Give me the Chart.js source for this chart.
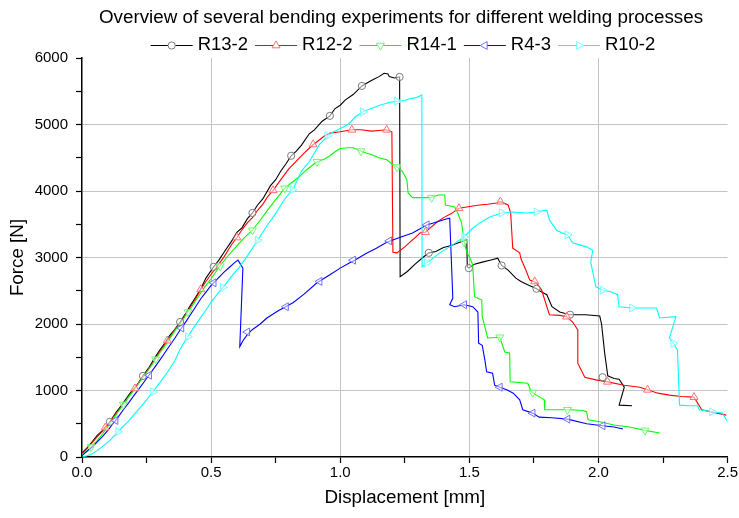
<!DOCTYPE html>
<html><head><meta charset="utf-8">
<script src="https://cdn.jsdelivr.net/npm/chart.js@4.4.1/dist/chart.umd.min.js"></script>
<style>html,body{margin:0;padding:0;background:#fff}#wrap{width:739px;height:518px}</style>
</head><body><div id="wrap"><canvas id="c" width="739" height="518"></canvas></div>
<script>
const titleText = 'Overview of several bending experiments for different welding processes';
const seriesNames = ['R13-2', 'R12-2', 'R14-1', 'R4-3', 'R10-2'];
const xTickLabels = ['0.0', '0.5', '1.0', '1.5', '2.0', '2.5'];
const yTickLabels = ['0', '1000', '2000', '3000', '4000', '5000', '6000'];

// R13-2 (Displacement mm, Force N)
const r13_2 = [[0,60],[0.02,140],[0.04,230],[0.06,330],[0.08,400],[0.108,530],[0.13,660],[0.15,760],[0.17,870],[0.19,980],[0.21,1060],[0.236,1220],[0.26,1350],[0.28,1480],[0.3,1600],[0.32,1710],[0.34,1830],[0.36,1920],[0.38,2030],[0.4,2150],[0.42,2280],[0.44,2400],[0.46,2530],[0.48,2690],[0.51,2860],[0.53,2960],[0.55,3080],[0.58,3250],[0.6,3380],[0.62,3450],[0.64,3580],[0.66,3670],[0.68,3790],[0.7,3880],[0.73,4080],[0.75,4170],[0.77,4300],[0.79,4410],[0.81,4530],[0.83,4600],[0.85,4690],[0.88,4860],[0.9,4920],[0.93,5050],[0.96,5130],[0.98,5240],[1.0,5290],[1.02,5370],[1.05,5450],[1.084,5580],[1.11,5640],[1.13,5680],[1.15,5720],[1.17,5770],[1.185,5760],[1.19,5720],[1.21,5700],[1.23,5715],[1.232,2710],[1.26,2790],[1.29,2900],[1.32,3000],[1.343,3070],[1.37,3090],[1.4,3150],[1.43,3180],[1.463,3230],[1.49,3265],[1.492,2860],[1.498,2840],[1.52,2900],[1.55,2930],[1.58,2960],[1.61,2990],[1.625,2880],[1.65,2810],[1.68,2690],[1.7,2640],[1.726,2590],[1.76,2530],[1.78,2480],[1.8,2440],[1.82,2260],[1.85,2180],[1.89,2140],[1.95,2140],[2.005,2120],[2.012,2000],[2.024,1565],[2.036,1220],[2.06,1180],[2.08,1170],[2.1,1050],[2.08,780],[2.13,770]];
const r13_2Marks = [[0.108,530],[0.236,1220],[0.38,2030],[0.51,2860],[0.66,3670],[0.81,4530],[0.96,5130],[1.084,5580],[1.23,5715],[1.343,3070],[1.498,2840],[1.625,2880],[1.76,2530],[1.89,2140],[2.016,1200]];

// R12-2
const r12_2 = [[0,50],[0.02,130],[0.04,220],[0.06,310],[0.08,390],[0.1,480],[0.12,600],[0.14,690],[0.17,850],[0.19,960],[0.21,1070],[0.236,1210],[0.26,1330],[0.28,1450],[0.3,1580],[0.32,1690],[0.34,1800],[0.36,1920],[0.38,2010],[0.4,2140],[0.42,2260],[0.44,2380],[0.46,2520],[0.48,2640],[0.51,2800],[0.53,2900],[0.55,3010],[0.58,3200],[0.6,3300],[0.62,3420],[0.64,3520],[0.66,3600],[0.68,3710],[0.7,3800],[0.72,3920],[0.74,4010],[0.77,4170],[0.8,4330],[0.83,4450],[0.86,4570],[0.89,4680],[0.92,4770],[0.94,4830],[0.96,4870],[1.0,4890],[1.045,4920],[1.08,4920],[1.12,4900],[1.15,4910],[1.18,4920],[1.2,4890],[1.204,3080],[1.22,3070],[1.25,3160],[1.27,3230],[1.29,3300],[1.31,3370],[1.33,3380],[1.35,3450],[1.374,3530],[1.4,3600],[1.43,3660],[1.46,3740],[1.49,3760],[1.513,3775],[1.54,3790],[1.57,3800],[1.606,3820],[1.62,3840],[1.65,3790],[1.66,3670],[1.668,3140],[1.695,3070],[1.7,2980],[1.72,2800],[1.734,2660],[1.76,2620],[1.78,2510],[1.8,2260],[1.81,2140],[1.85,2130],[1.877,2110],[1.9,2030],[1.92,1910],[1.92,1410],[1.947,1200],[1.99,1160],[2.035,1130],[2.1,1080],[2.16,1050],[2.19,1010],[2.23,960],[2.275,930],[2.32,910],[2.37,900],[2.4,710],[2.46,660],[2.495,630]];
const r12_2Marks = [[0.09,440],[0.205,1030],[0.33,1750],[0.46,2520],[0.6,3300],[0.74,4010],[0.895,4700],[1.045,4920],[1.18,4920],[1.33,3380],[1.46,3740],[1.62,3840],[1.753,2640],[1.877,2110],[2.035,1130],[2.19,1010],[2.37,900]];

// R14-1
const r14_1 = [[0,40],[0.02,90],[0.04,170],[0.06,250],[0.08,350],[0.1,460],[0.12,570],[0.14,680],[0.16,790],[0.18,900],[0.2,1000],[0.22,1110],[0.25,1270],[0.28,1440],[0.3,1560],[0.33,1720],[0.36,1900],[0.38,2000],[0.4,2120],[0.43,2290],[0.46,2470],[0.48,2580],[0.5,2680],[0.53,2850],[0.56,3000],[0.585,3110],[0.61,3220],[0.635,3320],[0.66,3410],[0.69,3560],[0.72,3720],[0.75,3870],[0.785,4040],[0.81,4120],[0.84,4210],[0.87,4320],[0.91,4440],[0.94,4480],[0.96,4530],[0.98,4590],[1.0,4640],[1.03,4650],[1.05,4650],[1.08,4600],[1.1,4570],[1.125,4540],[1.15,4500],[1.18,4470],[1.2,4410],[1.22,4360],[1.24,4300],[1.258,4170],[1.263,3970],[1.28,3900],[1.32,3900],[1.347,3900],[1.38,3940],[1.405,3940],[1.407,3790],[1.443,3760],[1.455,3670],[1.47,3520],[1.48,3230],[1.49,3080],[1.5,3010],[1.513,2890],[1.52,2410],[1.548,2360],[1.55,2110],[1.56,1960],[1.571,1790],[1.618,1800],[1.637,1580],[1.656,1565],[1.658,1130],[1.726,1110],[1.74,980],[1.76,930],[1.79,860],[1.792,710],[1.89,710],[1.94,700],[1.954,680],[1.96,560],[2.005,530],[2.06,480],[2.12,450],[2.18,400],[2.237,360]];
const r14_1Marks = [[0.035,150],[0.16,790],[0.285,1470],[0.41,2180],[0.535,2870],[0.66,3410],[0.785,4040],[0.91,4440],[1.08,4600],[1.22,4360],[1.354,3900],[1.48,3230],[1.618,1800],[1.745,970],[1.88,710],[2.18,400]];

// R4-3
const r4_3 = [[0,20],[0.02,90],[0.04,150],[0.06,230],[0.08,310],[0.1,400],[0.12,500],[0.14,600],[0.16,710],[0.18,810],[0.2,920],[0.22,1020],[0.25,1180],[0.28,1340],[0.3,1450],[0.33,1620],[0.36,1790],[0.38,1910],[0.4,2020],[0.43,2200],[0.46,2380],[0.48,2480],[0.5,2580],[0.52,2660],[0.55,2780],[0.57,2850],[0.59,2920],[0.604,2960],[0.623,2840],[0.611,1660],[0.625,1760],[0.638,1830],[0.658,1910],[0.69,2000],[0.716,2090],[0.76,2200],[0.817,2320],[0.86,2450],[0.91,2620],[0.96,2740],[1.0,2840],[1.037,2920],[1.056,2960],[1.1,3060],[1.14,3140],[1.18,3230],[1.23,3300],[1.28,3370],[1.335,3490],[1.38,3540],[1.41,3580],[1.424,3590],[1.436,2390],[1.424,2290],[1.443,2260],[1.48,2290],[1.513,2260],[1.533,2180],[1.536,1710],[1.55,1680],[1.56,1460],[1.567,1280],[1.59,1260],[1.598,1080],[1.618,1050],[1.645,1010],[1.67,960],[1.695,860],[1.707,710],[1.745,660],[1.77,600],[1.82,590],[1.88,570],[1.954,500],[2.016,470],[2.06,450],[2.095,420]];
const r4_3Marks = [[0.13,550],[0.26,1230],[0.385,1940],[0.51,2620],[0.64,1880],[0.79,2260],[0.92,2640],[1.05,2960],[1.19,3250],[1.335,3490],[1.48,2290],[1.618,1050],[1.745,660],[1.88,570],[2.016,470]];

// R10-2
const r10_2 = [[0,0],[0.02,20],[0.04,50],[0.06,100],[0.08,160],[0.1,220],[0.12,300],[0.14,380],[0.16,460],[0.18,540],[0.2,630],[0.22,720],[0.25,860],[0.28,1010],[0.3,1110],[0.33,1270],[0.36,1450],[0.38,1620],[0.4,1750],[0.43,1930],[0.46,2100],[0.48,2210],[0.5,2330],[0.53,2480],[0.55,2570],[0.58,2720],[0.61,2860],[0.64,3020],[0.68,3260],[0.72,3500],[0.75,3660],[0.78,3850],[0.82,4050],[0.85,4300],[0.88,4440],[0.92,4700],[0.96,4860],[1.0,4940],[1.03,5000],[1.06,5120],[1.09,5190],[1.12,5240],[1.153,5290],[1.19,5330],[1.22,5350],[1.25,5360],[1.27,5390],[1.29,5400],[1.308,5430],[1.316,5445],[1.317,2860],[1.335,2920],[1.36,2990],[1.385,3070],[1.424,3160],[1.463,3265],[1.48,3310],[1.513,3440],[1.54,3520],[1.579,3610],[1.625,3670],[1.668,3685],[1.72,3670],[1.76,3685],[1.8,3715],[1.81,3565],[1.838,3410],[1.86,3370],[1.88,3340],[1.9,3220],[1.954,3160],[1.978,3110],[1.97,2930],[1.99,2560],[2.016,2510],[2.05,2480],[2.074,2440],[2.08,2260],[2.13,2240],[2.225,2240],[2.237,2090],[2.3,2110],[2.275,1790],[2.29,1710],[2.306,1610],[2.314,780],[2.35,770],[2.384,770],[2.39,710],[2.44,680],[2.48,660],[2.5,530]];
const r10_2Marks = [[0.14,380],[0.275,980],[0.41,1810],[0.545,2550],[0.68,3260],[0.815,4020],[0.95,4830],[1.088,5190],[1.22,5350],[1.335,2920],[1.48,3310],[1.625,3670],[1.76,3685],[1.88,3340],[2.016,2510],[2.13,2240],[2.29,1710],[2.44,680]];

const lineData = [r13_2, r12_2, r14_1, r4_3, r10_2];
const markData = [r13_2Marks, r12_2Marks, r14_1Marks, r4_3Marks, r10_2Marks];
const lineColors = ['#000000', '#ff0000', '#00ff00', '#0000ff', '#00ffff'];
const markColors = ['#7a7a7a', '#ff7070', '#70f870', '#7070ff', '#70ffff'];
const markStyles = ['circle', 'triangle', 'triangle', 'triangle', 'triangle'];
const markRot = [0, 0, 180, 270, 90];
const markRadius = [3.6, 4.6, 4.6, 4.6, 4.6];

const FONT = '"Liberation Sans", Arial, sans-serif';
const toXY = a => a.map(p => ({x: p[0], y: p[1]}));

const datasets = [];
seriesNames.forEach((name, i) => {
  datasets.push({
    label: name, data: toXY(lineData[i]), showLine: true, borderColor: lineColors[i],
    backgroundColor: lineColors[i], borderWidth: 1.1, pointRadius: 0, pointHoverRadius: 0,
    tension: 0, fill: false, order: 10 - i
  });
});
seriesNames.forEach((name, i) => {
  datasets.push({
    label: name + ' symbols', data: toXY(markData[i]), showLine: false,
    pointStyle: markStyles[i], rotation: markRot[i], pointRadius: markRadius[i],
    pointBorderColor: markColors[i], pointBackgroundColor: 'rgba(255,255,255,0.55)',
    pointBorderWidth: 1, borderColor: markColors[i], order: 5 - i
  });
});

function drawMarker(ctx, style, x, y, r, rotDeg) {
  ctx.beginPath();
  if (style === 'circle') {
    ctx.arc(x, y, r, 0, Math.PI * 2);
  } else {
    let rad = rotDeg * Math.PI / 180;
    ctx.moveTo(x + Math.sin(rad) * r, y - Math.cos(rad) * r);
    rad += 2 * Math.PI / 3;
    ctx.lineTo(x + Math.sin(rad) * r, y - Math.cos(rad) * r);
    rad += 2 * Math.PI / 3;
    ctx.lineTo(x + Math.sin(rad) * r, y - Math.cos(rad) * r);
    ctx.closePath();
  }
  ctx.fillStyle = '#fff';
  ctx.fill();
  ctx.stroke();
}

const headerPlugin = {
  id: 'header',
  afterDraw(chart) {
    const ctx = chart.ctx;
    ctx.save();
    ctx.fillStyle = '#000';
    ctx.font = '18.8px ' + FONT;
    ctx.textAlign = 'center';
    ctx.textBaseline = 'middle';
    ctx.fillText(titleText, 401, 18);
    // legend
    const lineLen = 42, gapText = 5, gapItem = 7, ly = 45;
    ctx.font = '18.5px ' + FONT;
    const widths = seriesNames.map(n => ctx.measureText(n).width);
    let total = 0;
    widths.forEach(w => total += lineLen + gapText + w);
    total += gapItem * (seriesNames.length - 1);
    let x = 403 - total / 2;
    ctx.textAlign = 'left';
    seriesNames.forEach((n, i) => {
      ctx.strokeStyle = lineColors[i];
      ctx.lineWidth = 1;
      ctx.beginPath();
      ctx.moveTo(x, ly + 0.5); ctx.lineTo(x + lineLen, ly + 0.5);
      ctx.stroke();
      ctx.strokeStyle = markColors[i];
      drawMarker(ctx, markStyles[i], x + lineLen / 2, ly + 0.5, markRadius[i], markRot[i]);
      ctx.fillStyle = '#000';
      ctx.fillText(n, x + lineLen + gapText, ly);
      x += lineLen + gapText + widths[i] + gapItem;
    });
    ctx.restore();
  }
};

const isMajor = (v, step) => Math.abs(v / step - Math.round(v / step)) < 1e-6;

new Chart(document.getElementById('c'), {
  type: 'scatter',
  data: { datasets },
  plugins: [headerPlugin],
  options: {
    responsive: false, animation: false, devicePixelRatio: 1,
    layout: { padding: { top: 58, right: 11, left: 0, bottom: 0 } },
    plugins: { legend: { display: false }, title: { display: false }, tooltip: { enabled: false } },
    scales: {
      x: {
        type: 'linear', min: 0, max: 2.5,
        afterFit: s => { s.height = 61; },
        afterBuildTicks: s => { s.ticks = []; for (let k = 0; k <= 10; k++) s.ticks.push({value: k * 0.25}); },
        ticks: {
          autoSkip: false, maxRotation: 0, padding: 1, color: '#000',
          font: { family: FONT, size: 15 },
          callback: v => isMajor(v, 0.5) ? xTickLabels[Math.round(v / 0.5)] : ''
        },
        grid: {
          color: c => (c.tick && isMajor(c.tick.value, 0.5) && c.tick.value > 0.01 && c.tick.value < 2.49) ? '#c4c4c4' : 'rgba(0,0,0,0)',
          tickColor: '#000', tickLength: 6, lineWidth: 1, tickWidth: 1.2
        },
        border: { color: '#000', width: 1.5 },
        title: { display: true, text: 'Displacement [mm]', color: '#000', font: { family: FONT, size: 18.8 }, padding: { top: 0, bottom: 9 } }
      },
      y: {
        type: 'linear', min: 0, max: 6000,
        afterFit: s => { s.width = 82; },
        afterBuildTicks: s => { s.ticks = []; for (let k = 0; k <= 12; k++) s.ticks.push({value: k * 500}); },
        ticks: {
          autoSkip: false, padding: 8, color: '#000',
          font: { family: FONT, size: 15 },
          callback: v => isMajor(v, 1000) ? yTickLabels[Math.round(v / 1000)] : ''
        },
        grid: {
          color: c => (c.tick && isMajor(c.tick.value, 1000) && c.tick.value > 1 && c.tick.value < 5999) ? '#c4c4c4' : 'rgba(0,0,0,0)',
          tickColor: '#000', tickLength: 6, lineWidth: 1, tickWidth: 1.2
        },
        border: { color: '#000', width: 1.5 },
        title: { display: true, text: 'Force [N]', color: '#000', font: { family: FONT, size: 18.8 }, padding: { top: 7, bottom: 0 } }
      }
    }
  }
});
</script>
</body></html>
